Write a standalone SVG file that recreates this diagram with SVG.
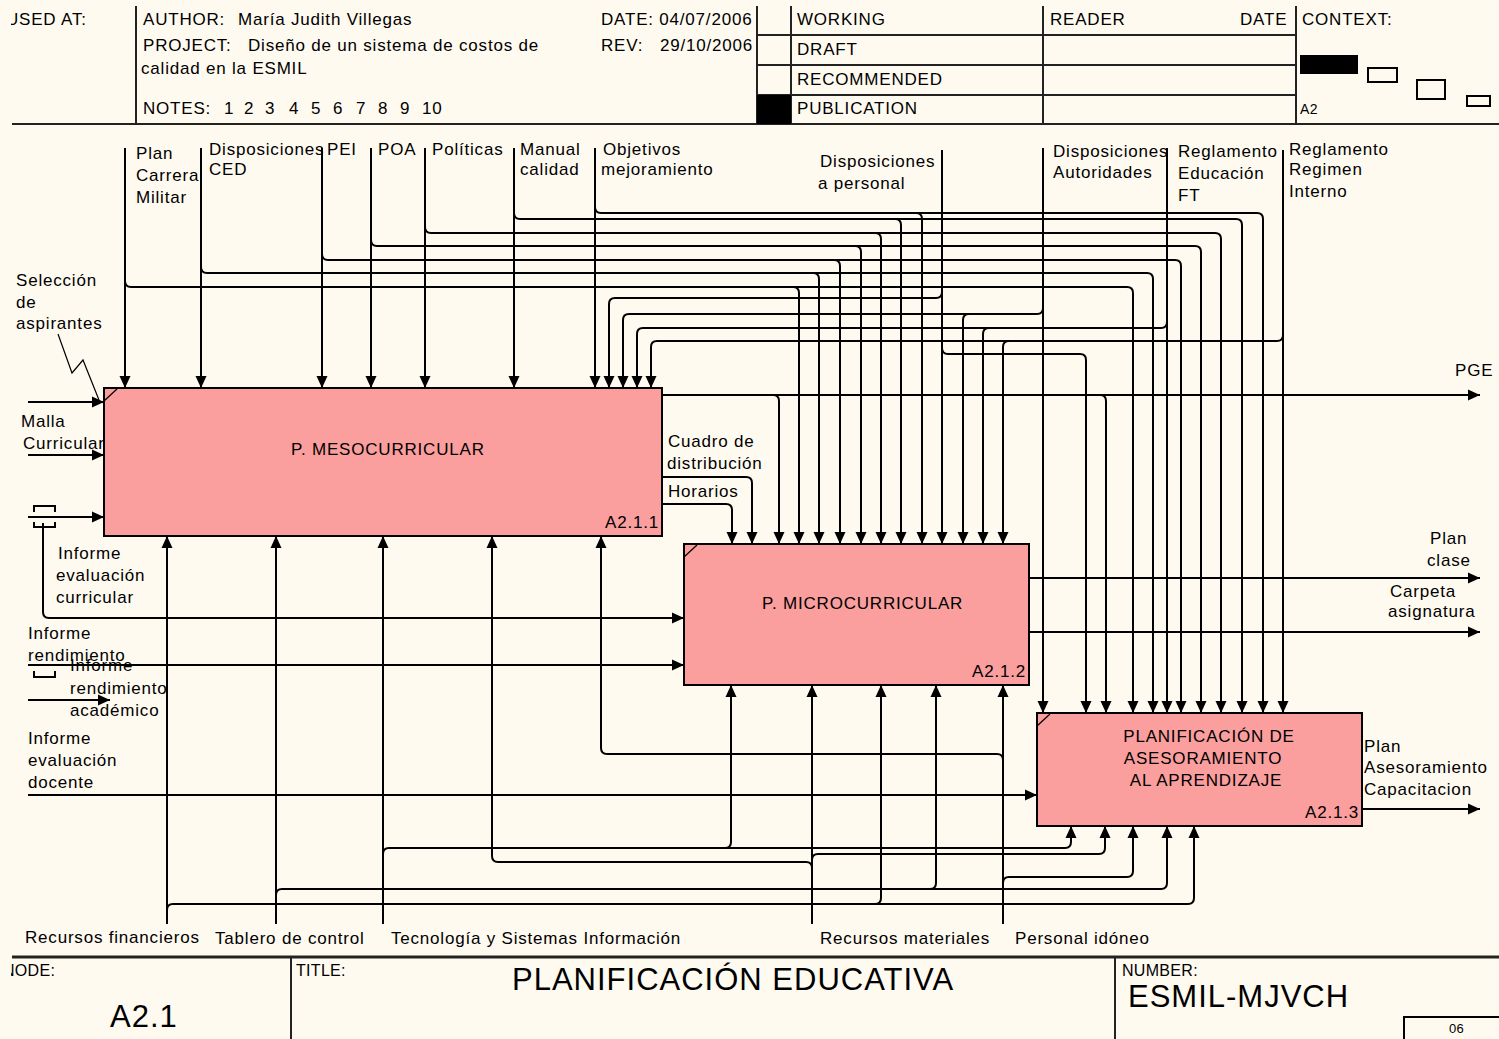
<svg xmlns="http://www.w3.org/2000/svg" width="1499" height="1039" viewBox="0 0 1499 1039">
<defs>
<style>
.t{font-family:"Liberation Sans",Arial,sans-serif;font-size:17px;letter-spacing:0.8px;fill:#000}
.s{font-family:"Liberation Sans",Arial,sans-serif;font-size:16px;letter-spacing:0.3px;fill:#000}
.big{font-family:"Liberation Sans",Arial,sans-serif;font-size:31px;letter-spacing:1px;fill:#000}
.ln{fill:none;stroke:#000;stroke-width:2}
.a{marker-end:url(#ah)}
.fr{fill:none;stroke:#222;stroke-width:2}
.box{fill:#FA9E9E;stroke:#000;stroke-width:2}
.thin{fill:none;stroke:#000;stroke-width:1.2}
</style>
<marker id="ah" viewBox="0 0 12 12" refX="12" refY="6" markerWidth="12" markerHeight="12" markerUnits="userSpaceOnUse" orient="auto"><path d="M0,0.5 L12,6 L0,11.5 Z" fill="#000"/></marker>
<clipPath id="lc"><rect x="11" y="0" width="200" height="1039"/></clipPath>
</defs>
<rect x="0" y="0" width="1499" height="1039" fill="#FFFAF0"/>

<g id="header">
<line class="fr" x1="12" y1="124" x2="1499" y2="124"/>
<line class="fr" x1="136" y1="6" x2="136" y2="124"/>
<line class="fr" x1="757" y1="6" x2="757" y2="124"/>
<line class="fr" x1="791" y1="6" x2="791" y2="124"/>
<line class="fr" x1="1043" y1="6" x2="1043" y2="124"/>
<line class="fr" x1="1296" y1="6" x2="1296" y2="124"/>
<line class="fr" x1="757" y1="35" x2="1296" y2="35"/>
<line class="fr" x1="757" y1="65" x2="1296" y2="65"/>
<line class="fr" x1="757" y1="95" x2="1296" y2="95"/>
<rect x="757" y="95" width="34" height="29" fill="#000"/>
<text class="t" x="6" y="25" clip-path="url(#lc)">USED AT:</text>
<text class="t" x="143" y="25">AUTHOR:</text>
<text class="t" x="238" y="25">María Judith Villegas</text>
<text class="t" x="143" y="51">PROJECT:</text>
<text class="t" x="248" y="51">Diseño de un sistema de costos de</text>
<text class="t" x="141" y="74">calidad en la ESMIL</text>
<text class="t" x="143" y="114">NOTES:</text>
<text class="t" x="224" y="114">1</text>
<text class="t" x="244" y="114">2</text>
<text class="t" x="265" y="114">3</text>
<text class="t" x="289" y="114">4</text>
<text class="t" x="311" y="114">5</text>
<text class="t" x="333" y="114">6</text>
<text class="t" x="356" y="114">7</text>
<text class="t" x="378" y="114">8</text>
<text class="t" x="400" y="114">9</text>
<text class="t" x="422" y="114">10</text>
<text class="t" x="601" y="25">DATE: 04/07/2006</text>
<text class="t" x="601" y="51">REV:</text>
<text class="t" x="660" y="51">29/10/2006</text>
<text class="t" x="797" y="25">WORKING</text>
<text class="t" x="797" y="55">DRAFT</text>
<text class="t" x="797" y="85">RECOMMENDED</text>
<text class="t" x="797" y="114">PUBLICATION</text>
<text class="t" x="1050" y="25">READER</text>
<text class="t" x="1240" y="25">DATE</text>
<text class="t" x="1302" y="25">CONTEXT:</text>
<text class="s" x="1300" y="114" style="font-size:14px">A2</text>
<rect x="1300" y="55" width="58" height="19" fill="#000"/>
<rect x="1368" y="68" width="29" height="14" fill="none" stroke="#000" stroke-width="2"/>
<rect x="1417" y="80" width="28" height="19" fill="none" stroke="#000" stroke-width="2"/>
<rect x="1467" y="96" width="23" height="10" fill="none" stroke="#000" stroke-width="2"/>
</g>

<g id="footer">
<line x1="12" y1="957" x2="1499" y2="957" stroke="#222" stroke-width="3"/>
<line class="fr" x1="291" y1="957" x2="291" y2="1039"/>
<line class="fr" x1="1115" y1="957" x2="1115" y2="1039"/>
<rect x="1404" y="1017" width="100" height="26" fill="none" stroke="#000" stroke-width="2"/>
<text class="s" x="3" y="976" clip-path="url(#lc)">NODE:</text>
<text class="big" x="110" y="1027">A2.1</text>
<text class="s" x="296" y="976">TITLE:</text>
<text class="big" x="512" y="990">PLANIFICACIÓN  EDUCATIVA</text>
<text class="s" x="1122" y="976">NUMBER:</text>
<text class="big" x="1128" y="1007">ESMIL-MJVCH</text>
<text class="s" x="1449" y="1033" style="font-size:13px">06</text>
</g>

<g id="box1">
<rect class="box" x="104" y="388" width="558" height="148"/>
<line class="thin" x1="104" y1="401" x2="117" y2="389"/>
<text class="t" x="291" y="455">P. MESOCURRICULAR</text>
<text class="t" x="605" y="528">A2.1.1</text>
</g>
<g id="box2">
<rect class="box" x="684" y="544" width="345" height="141"/>
<line class="thin" x1="684" y1="557" x2="697" y2="545"/>
<text class="t" x="762" y="609">P. MICROCURRICULAR</text>
<text class="t" x="972" y="677">A2.1.2</text>
</g>
<g id="box3">
<rect class="box" x="1037" y="713" width="325" height="113"/>
<line class="thin" x1="1037" y1="726" x2="1050" y2="714"/>
<text class="t" x="1209" y="742" text-anchor="middle">PLANIFICACIÓN DE</text>
<text class="t" x="1203" y="764" text-anchor="middle">ASESORAMIENTO</text>
<text class="t" x="1206" y="786" text-anchor="middle">AL APRENDIZAJE</text>
<text class="t" x="1305" y="818">A2.1.3</text>
</g>

<g id="connectors">
<path class="ln a" d="M125,148 V388"/>
<path class="ln a" d="M125,281 Q125,287 131,287 H1127 Q1133,287 1133,293 V713"/>
<path class="ln a" d="M793,287 Q799,287 799,293 V544"/>
<path class="ln a" d="M201,148 V388"/>
<path class="ln a" d="M201,267 Q201,273 207,273 H1147 Q1153,273 1153,279 V713"/>
<path class="ln a" d="M813,273 Q819,273 819,279 V544"/>
<path class="ln a" d="M322,148 V388"/>
<path class="ln a" d="M322,254 Q322,260 328,260 H1175 Q1181,260 1181,266 V713"/>
<path class="ln a" d="M834,260 Q840,260 840,266 V544"/>
<path class="ln a" d="M371,148 V388"/>
<path class="ln a" d="M371,240 Q371,246 377,246 H1195 Q1201,246 1201,252 V713"/>
<path class="ln a" d="M855,246 Q861,246 861,252 V544"/>
<path class="ln a" d="M425,148 V388"/>
<path class="ln a" d="M425,227 Q425,233 431,233 H1215 Q1221,233 1221,239 V713"/>
<path class="ln a" d="M875,233 Q881,233 881,239 V544"/>
<path class="ln a" d="M514,148 V388"/>
<path class="ln a" d="M514,213 Q514,219 520,219 H1236 Q1242,219 1242,225 V713"/>
<path class="ln a" d="M895,219 Q901,219 901,225 V544"/>
<path class="ln a" d="M595,148 V388"/>
<path class="ln a" d="M595,207 Q595,213 601,213 H1257 Q1263,213 1263,219 V713"/>
<path class="ln a" d="M916,213 Q922,213 922,219 V544"/>
<path class="ln a" d="M942,150 V544"/>
<path class="ln a" d="M942,292 Q942,298 936,298 H615 Q609,298 609,304 V388"/>
<path class="ln a" d="M942,348 Q942,354 948,354 H1080 Q1086,354 1086,360 V713"/>
<path class="ln a" d="M1043,148 V713"/>
<path class="ln a" d="M1043,308 Q1043,314 1037,314 H629 Q623,314 623,320 V388"/>
<path class="ln a" d="M969,314 Q963,314 963,320 V544"/>
<path class="ln a" d="M1167,148 V713"/>
<path class="ln a" d="M1167,322 Q1167,328 1161,328 H643 Q637,328 637,334 V388"/>
<path class="ln a" d="M989,328 Q983,328 983,334 V544"/>
<path class="ln a" d="M1283,150 V713"/>
<path class="ln a" d="M1283,335 Q1283,341 1277,341 H657 Q651,341 651,347 V388"/>
<path class="ln a" d="M1009,341 Q1003,341 1003,347 V544"/>
<path class="ln a" d="M662,395 H1480"/>
<path class="ln a" d="M773,395 Q779,395 779,401 V544"/>
<path class="ln a" d="M1100,395 Q1106,395 1106,401 V713"/>
<path class="ln a" d="M662,477 H746 Q752,477 752,483 V544"/>
<path class="ln a" d="M662,504 H726 Q732,504 732,510 V544"/>
<path class="ln a" d="M1029,578 H1480"/>
<path class="ln a" d="M1029,632 H1480"/>
<path class="ln a" d="M1362,809 H1480"/>
<path class="ln a" d="M28,402 H104"/>
<path class="thin" d="M58,334 L72,373 L83,360 L99,400"/>
<path class="ln a" d="M28,455 H104"/>
<path class="ln a" d="M28,517 H104"/>
<path class="ln a" d="M43,523 V612 Q43,618 49,618 H684"/>
<path class="ln" d="M34,512 V506 H55 V512 M34,522 V527 H55 V522"/>
<path class="ln a" d="M28,665 H684"/>
<path class="ln" d="M34,671 V677 H55 V671"/>
<path class="ln a" d="M28,700 H110"/>
<path class="ln a" d="M28,795 H1037"/>
<path class="ln a" d="M167,924 V536"/>
<path class="ln a" d="M167,910 Q167,904 173,904 H1188 Q1194,904 1194,898 V826"/>
<path class="ln a" d="M875,904 Q881,904 881,898 V685"/>
<path class="ln a" d="M276,924 V536"/>
<path class="ln a" d="M276,895 Q276,889 282,889 H1161 Q1167,889 1167,883 V826"/>
<path class="ln a" d="M930,889 Q936,889 936,883 V685"/>
<path class="ln a" d="M383,924 V536"/>
<path class="ln a" d="M383,854 Q383,848 389,848 H1065 Q1071,848 1071,842 V826"/>
<path class="ln a" d="M725,848 Q731,848 731,842 V685"/>
<path class="ln a" d="M812,924 V685"/>
<path class="ln a" d="M812,868 Q812,862 806,862 H498 Q492,862 492,856 V536"/>
<path class="ln a" d="M812,860 Q812,854 818,854 H1099 Q1105,854 1105,848 V826"/>
<path class="ln a" d="M1003,924 V685"/>
<path class="ln a" d="M1003,760 Q1003,754 997,754 H607 Q601,754 601,748 V536"/>
<path class="ln a" d="M1003,883 Q1003,877 1009,877 H1127 Q1133,877 1133,871 V826"/>
</g>

<g id="labels">
<text class="t" x="136" y="159">Plan</text>
<text class="t" x="136" y="181">Carrera</text>
<text class="t" x="136" y="203">Militar</text>
<text class="t" x="209" y="155">Disposiciones</text>
<text class="t" x="209" y="175">CED</text>
<text class="t" x="327" y="155">PEI</text>
<text class="t" x="378" y="155">POA</text>
<text class="t" x="432" y="155">Políticas</text>
<text class="t" x="520" y="155">Manual</text>
<text class="t" x="520" y="175">calidad</text>
<text class="t" x="603" y="155">Objetivos</text>
<text class="t" x="601" y="175">mejoramiento</text>
<text class="t" x="820" y="167">Disposiciones</text>
<text class="t" x="818" y="189">a personal</text>
<text class="t" x="1053" y="157">Disposiciones</text>
<text class="t" x="1053" y="178">Autoridades</text>
<text class="t" x="1178" y="157">Reglamento</text>
<text class="t" x="1178" y="179">Educación</text>
<text class="t" x="1178" y="201">FT</text>
<text class="t" x="1289" y="155">Reglamento</text>
<text class="t" x="1289" y="175">Regimen</text>
<text class="t" x="1289" y="197">Interno</text>
<text class="t" x="16" y="286">Selección</text>
<text class="t" x="16" y="308">de</text>
<text class="t" x="16" y="329">aspirantes</text>
<text class="t" x="1455" y="376">PGE</text>
<text class="t" x="21" y="427">Malla</text>
<text class="t" x="23" y="449">Curricular</text>
<text class="t" x="668" y="447">Cuadro de</text>
<text class="t" x="667" y="469">distribución</text>
<text class="t" x="668" y="497">Horarios</text>
<text class="t" x="58" y="559">Informe</text>
<text class="t" x="56" y="581">evaluación</text>
<text class="t" x="56" y="603">curricular</text>
<text class="t" x="28" y="639">Informe</text>
<text class="t" x="28" y="661">rendimiento</text>
<text class="t" x="70" y="671">Informe</text>
<text class="t" x="70" y="694">rendimiento</text>
<text class="t" x="70" y="716">académico</text>
<text class="t" x="28" y="744">Informe</text>
<text class="t" x="28" y="766">evaluación</text>
<text class="t" x="28" y="788">docente</text>
<text class="t" x="1430" y="544">Plan</text>
<text class="t" x="1427" y="566">clase</text>
<text class="t" x="1390" y="597">Carpeta</text>
<text class="t" x="1388" y="617">asignatura</text>
<text class="t" x="1364" y="752">Plan</text>
<text class="t" x="1364" y="773">Asesoramiento</text>
<text class="t" x="1364" y="795">Capacitacion</text>
<text class="t" x="25" y="943">Recursos financieros</text>
<text class="t" x="215" y="944">Tablero de control</text>
<text class="t" x="391" y="944">Tecnología y  Sistemas  Información</text>
<text class="t" x="820" y="944">Recursos materiales</text>
<text class="t" x="1015" y="944">Personal idóneo</text>
</g>
</svg>
